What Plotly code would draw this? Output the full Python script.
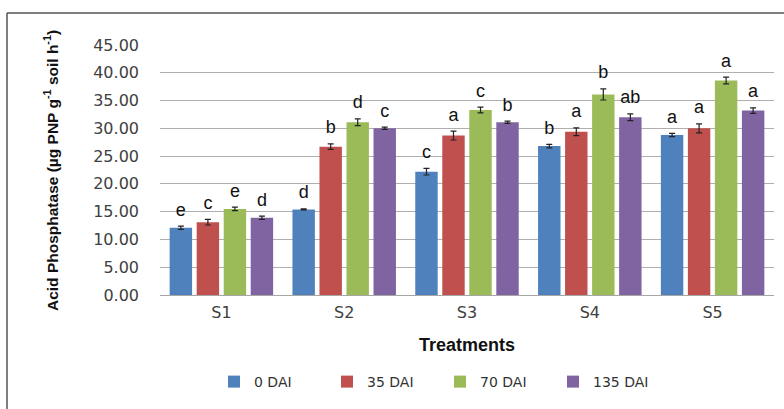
import plotly.graph_objects as go

categories = ["S1", "S2", "S3", "S4", "S5"]
series_names = ["0 DAI", "35 DAI", "70 DAI", "135 DAI"]
values_0 = [12.1, 15.4, 22.2, 26.8, 28.8]
values_35 = [13.1, 26.7, 28.7, 29.4, 30.0]
values_70 = [15.5, 31.1, 33.3, 36.1, 38.6]
values_135 = [13.9, 30.0, 31.1, 32.0, 33.2]
err_0 = [0.3, 0.1, 0.6, 0.3, 0.3]
err_35 = [0.5, 0.5, 0.8, 0.7, 0.8]
err_70 = [0.3, 0.6, 0.5, 1.0, 0.6]
err_135 = [0.3, 0.2, 0.2, 0.6, 0.5]
letters_0 = ["e", "d", "c", "b", "a"]
letters_35 = ["c", "b", "a", "a", "a"]
letters_70 = ["e", "d", "c", "b", "a"]
letters_135 = ["d", "c", "b", "ab", "a"]
colors = ["#4F81BD", "#C0504D", "#9BBB59", "#8064A2"]
tick_vals = [0, 5, 10, 15, 20, 25, 30, 35, 40, 45]
tick_text = ["%.2f" % v for v in tick_vals]

all_vals = [values_0, values_35, values_70, values_135]
all_errs = [err_0, err_35, err_70, err_135]
all_letters = [letters_0, letters_35, letters_70, letters_135]

fig = go.Figure()
for i, name in enumerate(series_names):
    fig.add_trace(go.Bar(
        x=categories, y=all_vals[i], name=name,
        marker=dict(color=colors[i], line=dict(width=0)),
        offsetgroup=str(i),
        error_y=dict(type="data", array=all_errs[i], color="#222222", thickness=1.2, width=3),
    ))
for i, name in enumerate(series_names):
    fig.add_trace(go.Scatter(
        x=categories, y=[v + e for v, e in zip(all_vals[i], all_errs[i])],
        mode="markers+text", text=all_letters[i], textposition="top center",
        marker=dict(size=8, opacity=0),
        textfont=dict(family="Liberation Sans, Arial", size=18, color="#111111"),
        offsetgroup=str(i), showlegend=False, cliponaxis=False, hoverinfo="skip",
    ))

W, H = 784, 409
L, R, T, B = 160, 10, 45, 114
pw, ph = W - L - R, H - T - B

def px(x):
    return (x - L) / pw

def py(y):
    return (H - B - y) / ph

fig.update_layout(
    width=W, height=H,
    margin=dict(l=L, r=R, t=T, b=B, autoexpand=False),
    paper_bgcolor="white", plot_bgcolor="white",
    barmode="group", scattermode="group",
    bargap=0.12, bargroupgap=0.17, scattergap=0.12,
    showlegend=True,
    legend=dict(orientation="h", x=px(214), xanchor="left", y=py(382), yanchor="middle",
                font=dict(family="DejaVu Sans", size=14, color="#333333"),
                entrywidth=68, entrywidthmode="pixels", itemwidth=30),
    xaxis=dict(showgrid=False, showline=True, linecolor="#A6A6A6", linewidth=1,
               ticks="", tickfont=dict(family="DejaVu Sans", size=16, color="#404040"),
               ticklabelstandoff=3),
    yaxis=dict(range=[0, 45], tickvals=tick_vals, ticktext=tick_text,
               showgrid=True, gridcolor="#AFAFAF", gridwidth=1, zeroline=False,
               showline=False, ticks="",
               tickfont=dict(family="DejaVu Sans", size=16, color="#404040"),
               ticklabelstandoff=20),
    annotations=[
        dict(text="<b>Acid Phosphatase (µg PNP g<sup>-1</sup> soil h<sup>-1</sup>)</b>",
             x=px(51), y=py(171), xref="paper", yref="paper", textangle=-90,
             showarrow=False, font=dict(family="Liberation Sans, Arial", size=15.5, color="#111111"),
             xanchor="center", yanchor="middle"),
        dict(text="<b>Treatments</b>", x=px(467), y=py(345), xref="paper", yref="paper",
             showarrow=False, font=dict(family="Liberation Sans, Arial", size=18, color="#111111"),
             xanchor="center", yanchor="middle"),
    ],
    shapes=[
        dict(type="line", xref="paper", yref="paper", x0=px(7), x1=px(7), y0=py(409), y1=py(13),
             line=dict(color="#555555", width=1.5)),
        dict(type="line", xref="paper", yref="paper", x0=px(7), x1=px(784), y0=py(13), y1=py(13),
             line=dict(color="#555555", width=1.5)),
    ],
)
fig.write_html("out.html", config={"displayModeBar": False},
               post_script="document.body.style.margin='0';document.body.style.overflow='hidden';")
